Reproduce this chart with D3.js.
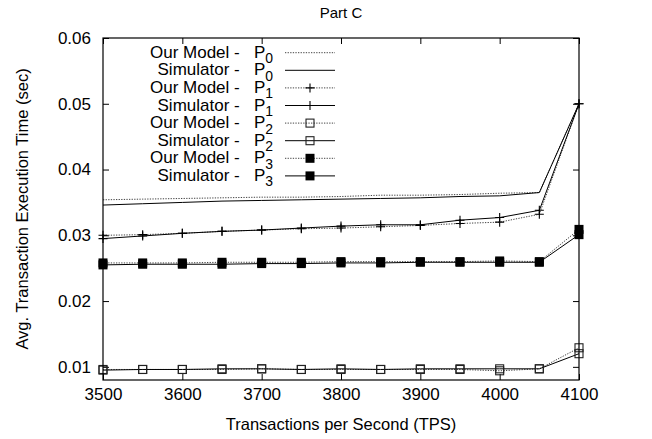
<!DOCTYPE html>
<html>
<head>
<meta charset="utf-8">
<script src="https://cdn.jsdelivr.net/npm/d3@7"></script>
<style>
  html, body { margin: 0; padding: 0; background: #fff; }
  svg text { font-family: "Liberation Sans", Arial, Helvetica, sans-serif; fill: #000; }
</style>
</head>
<body>
<svg id="chart" width="652" height="439"></svg>
<script>
// ---- data ----
const tps = [3500, 3550, 3600, 3650, 3700, 3750, 3800, 3850, 3900, 3950, 4000, 4050, 4100];
const modelP0 = [0.0354, 0.0355, 0.0356, 0.0357, 0.0358, 0.0358, 0.0359, 0.0361, 0.0361, 0.0362, 0.0364, 0.0365, 0.0500];
const simP0   = [0.0346, 0.0348, 0.0350, 0.0352, 0.0353, 0.0354, 0.0355, 0.0356, 0.0357, 0.0359, 0.0360, 0.0365, 0.0500];
const modelP1 = [0.0300, 0.0301, 0.0303, 0.0306, 0.0308, 0.0310, 0.0311, 0.0313, 0.0315, 0.0318, 0.0320, 0.0332, 0.0500];
const simP1   = [0.0295, 0.0299, 0.0303, 0.0306, 0.0308, 0.0311, 0.0314, 0.0316, 0.0316, 0.0323, 0.0327, 0.0338, 0.0500];
const modelP2 = [0.0096, 0.0096, 0.0096, 0.0096, 0.0097, 0.0096, 0.0096, 0.0096, 0.0096, 0.0096, 0.0094, 0.0097, 0.0129];
const simP2   = [0.0095, 0.0096, 0.0096, 0.0097, 0.0097, 0.0096, 0.0097, 0.0096, 0.0097, 0.0097, 0.0097, 0.0097, 0.0120];
const modelP3 = [0.0258, 0.0258, 0.0258, 0.0259, 0.0259, 0.0259, 0.0260, 0.0260, 0.0260, 0.0260, 0.0261, 0.0260, 0.0309];
const simP3   = [0.0255, 0.0256, 0.0256, 0.0256, 0.0257, 0.0257, 0.0258, 0.0258, 0.0259, 0.0259, 0.0259, 0.0259, 0.0301];
const xTicks = [3500, 3600, 3700, 3800, 3900, 4000, 4100];
const yTicks = [0.01, 0.02, 0.03, 0.04, 0.05, 0.06];
const seriesNames = ["Our Model -   P", "Simulator -   P", "Our Model -   P", "Simulator -   P",
                     "Our Model -   P", "Simulator -   P", "Our Model -   P", "Simulator -   P"];
const seriesSubs = ["0", "0", "1", "1", "2", "2", "3", "3"];
const titleText = "Part C";
const xLabel = "Transactions per Second (TPS)";
const yLabel = "Avg. Transaction Execution Time (sec)";

// ---- layout ----
const svg = d3.select("#chart");
const L = 103, R = 579, T = 38, B = 380;
const x = d3.scaleLinear().domain([3500, 4100]).range([L, R]);
const y = d3.scaleLinear().domain([0.008, 0.06]).range([B, T]);
const TICK_FS = 17, LEG_FS = 17, LAB_FS = 16.5;

const series = [
  { v: modelP0, dash: true,  mark: "none" },
  { v: simP0,   dash: false, mark: "none" },
  { v: modelP1, dash: true,  mark: "plus" },
  { v: simP1,   dash: false, mark: "plus" },
  { v: modelP2, dash: true,  mark: "open" },
  { v: simP2,   dash: false, mark: "open" },
  { v: modelP3, dash: true,  mark: "filled" },
  { v: simP3,   dash: false, mark: "filled" }
];

// axes
const axL = d3.axisLeft(y).tickValues(yTicks).tickFormat(d3.format(".2f")).tickSize(-6).tickSizeOuter(0).tickPadding(12);
const axR = d3.axisRight(y).tickValues(yTicks).tickFormat("").tickSize(-6).tickSizeOuter(0);
const axB = d3.axisBottom(x).tickValues(xTicks).tickFormat(d3.format("d")).tickSize(-6).tickSizeOuter(0).tickPadding(8);
const axT = d3.axisTop(x).tickValues(xTicks).tickFormat("").tickSize(-6).tickSizeOuter(0);

function styleAxis(g) {
  g.select(".domain").remove();
  g.selectAll(".tick line").attr("stroke", "#000").attr("stroke-width", 1);
  g.selectAll(".tick text").style("font-size", TICK_FS + "px").attr("fill", "#000");
}
svg.append("g").attr("transform", `translate(${L},0)`).call(axL).call(styleAxis);
svg.append("g").attr("transform", `translate(${R},0)`).call(axR).call(styleAxis);
svg.append("g").attr("transform", `translate(0,${B})`).call(axB).call(styleAxis);
svg.append("g").attr("transform", `translate(0,${T})`).call(axT).call(styleAxis);

// lines
const line = d3.line().x((d, i) => x(tps[i])).y(d => y(d));
function drawMarker(g, type, cx, cy) {
  if (type === "plus") {
    g.append("path").attr("d", `M${cx - 4.5},${cy}H${cx + 4.5}M${cx},${cy - 4.5}V${cy + 4.5}`)
      .attr("stroke", "#000").attr("stroke-width", 1.1).attr("fill", "none");
  } else if (type === "open") {
    g.append("rect").attr("x", cx - 4).attr("y", cy - 4).attr("width", 8).attr("height", 8)
      .attr("fill", "none").attr("stroke", "#222").attr("stroke-width", 1.1);
  } else if (type === "filled") {
    g.append("rect").attr("x", cx - 4.5).attr("y", cy - 4.5).attr("width", 9).attr("height", 9)
      .attr("fill", "#000");
  }
}
const plotG = svg.append("g");
series.forEach(s => {
  plotG.append("path").attr("d", line(s.v)).attr("fill", "none")
    .attr("stroke", s.dash ? "#444" : "#000").attr("stroke-width", 1)
    .attr("stroke-dasharray", s.dash ? "1.3,1.3" : null);
  s.v.forEach((d, i) => drawMarker(plotG, s.mark, x(tps[i]), y(d)));
});

// border
svg.append("rect").attr("x", L).attr("y", T).attr("width", R - L).attr("height", B - T)
  .attr("fill", "none").attr("stroke", "#000").attr("stroke-width", 1.2);

// legend
const lg = svg.append("g");
series.forEach((s, k) => {
  const ly = 52.7 + k * 17.6;
  lg.append("line").attr("x1", 285).attr("x2", 335).attr("y1", ly).attr("y2", ly)
    .attr("stroke", s.dash ? "#444" : "#000").attr("stroke-width", 1)
    .attr("stroke-dasharray", s.dash ? "1.3,1.3" : null);
  drawMarker(lg, s.mark, 310, ly);
  const t = lg.append("text").attr("x", 273).attr("y", ly + 5).attr("text-anchor", "end")
    .style("font-size", LEG_FS + "px").style("white-space", "pre");
  t.append("tspan").text(seriesNames[k]);
  t.append("tspan").attr("dy", 5.5).style("font-size", (LEG_FS * 0.82) + "px").text(seriesSubs[k]);
});

// titles
svg.append("text").attr("x", (L + R) / 2).attr("y", 18).attr("text-anchor", "middle")
  .style("font-size", "15px").text(titleText);
svg.append("text").attr("x", (L + R) / 2).attr("y", 430).attr("text-anchor", "middle")
  .style("font-size", LAB_FS + "px").text(xLabel);
svg.append("text").attr("transform", `translate(28,${(T + B) / 2}) rotate(-90)`).attr("text-anchor", "middle")
  .style("font-size", LAB_FS + "px").text(yLabel);
</script>
</body>
</html>
